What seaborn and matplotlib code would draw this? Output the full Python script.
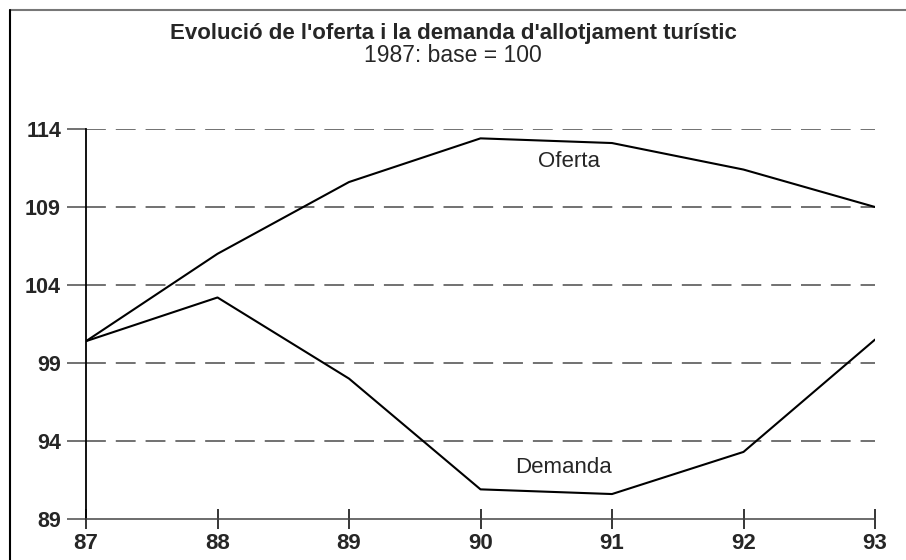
import matplotlib
matplotlib.use("Agg")
import matplotlib.pyplot as plt
import seaborn as sns
import pandas as pd
from matplotlib.lines import Line2D

years = [87, 88, 89, 90, 91, 92, 93]
oferta = [100.4, 106.0, 110.6, 113.4, 113.1, 111.4, 109.0]
demanda = [100.4, 103.2, 98.0, 90.9, 90.6, 93.3, 100.5]
yticks = [89, 94, 99, 104, 109, 114]
title = "Evolució de l'oferta i la demanda d'allotjament turístic"
subtitle = "1987: base = 100"

df = pd.DataFrame({
    "any": years * 2,
    "valor": oferta + demanda,
    "serie": ["Oferta"] * len(years) + ["Demanda"] * len(years),
})

sns.set_style("white")
plt.rcParams["font.family"] = ["Liberation Sans", "DejaVu Sans"]

W, H = 906, 560
fig = plt.figure(figsize=(W / 100, H / 100), dpi=100)
ax = fig.add_axes([86 / W, 1 - 519 / H, (875 - 86) / W, (519 - 129) / H])

sns.lineplot(data=df, x="any", y="valor", hue="serie",
             palette={"Oferta": "black", "Demanda": "black"},
             linewidth=1.5, legend=False, ax=ax)

ax.set_xlim(87, 93)
ax.set_ylim(89, 114)
ax.set_xticks(years)
ax.set_xticklabels([str(y) for y in years])
ax.set_yticks(yticks)
ax.set_yticklabels([str(v) for v in yticks])
ax.set_xlabel("")
ax.set_ylabel("")

for v in yticks[1:]:
    ax.axhline(v, color="#4a4a4a", lw=1.1, ls=(0, (13, 6.5)), zorder=0)

for s in ["top", "right"]:
    ax.spines[s].set_visible(False)
ax.spines["left"].set_color("black")
ax.spines["left"].set_linewidth(1.3)
ax.spines["bottom"].set_color("#444444")
ax.spines["bottom"].set_linewidth(1.1)

ax.tick_params(axis="y", length=14, width=1.1, color="#4a4a4a", pad=4,
               labelsize=15.5, direction="out", left=True)
ax.tick_params(axis="x", length=14, width=1.1, color="black", pad=3,
               labelsize=16, direction="inout", bottom=True)
for lab in ax.get_xticklabels() + ax.get_yticklabels():
    lab.set_fontweight("bold")

ax.text(90.67, 111.9, "Oferta", fontsize=16, ha="center", va="center")
ax.text(90.63, 92.3, "Demanda", fontsize=16, ha="center", va="center")

fig.text(0.500, 1 - 33 / H, title, fontsize=16, fontweight="bold",
         ha="center", va="center")
fig.text(0.500, 1 - 56 / H, subtitle, fontsize=16.5, ha="center", va="center")

# outer frame of the scanned figure
fig.add_artist(Line2D([10 / W, 1.0], [1 - 10 / H, 1 - 10 / H],
                      transform=fig.transFigure, color="#777777", lw=1.5))
fig.add_artist(Line2D([10 / W, 10 / W], [0, 1 - 10 / H],
                      transform=fig.transFigure, color="black", lw=1.5))

fig.savefig("out.png", dpi=100)
